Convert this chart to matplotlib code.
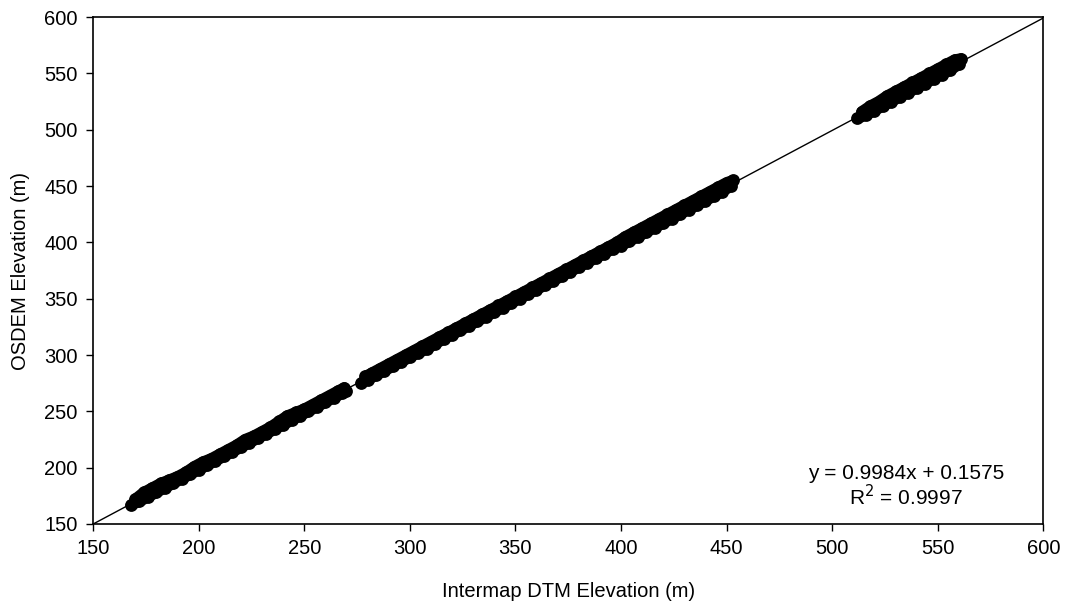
import matplotlib
matplotlib.use("Agg")
import matplotlib.pyplot as plt

plt.rcParams["font.family"] = ["Liberation Sans", "DejaVu Sans"]

# DATA (lower and upper edge of the point cloud)
# segment A (below the small break near 273 m)
xa_lo = [168, 172, 176, 180, 184, 188, 192, 196, 200, 204, 208, 212, 216, 220,
         224, 228, 232, 236, 240, 244, 248, 252, 256, 260, 264, 268, 270]
ya_lo = [167, 170, 174, 178, 182, 186, 190, 194, 198, 202, 206, 210, 214, 218,
         222, 226, 230, 234, 238, 242, 246, 250, 254, 258, 262, 266, 268]
xa_hi = [170, 174, 178, 182, 186, 190, 194, 198, 202, 206, 210, 214, 218, 222,
         226, 230, 234, 238, 242, 246, 250, 254, 258, 262, 266, 269]
ya_hi = [172, 178, 182, 186, 189, 192, 196, 201, 205, 208, 212, 216, 220, 225,
         228, 232, 236, 241, 246, 249, 252, 256, 260, 264, 268, 271]

# segment B (273 m up to 456 m)
xb_lo = [277, 280, 284, 288, 292, 296, 300, 304, 308, 312, 316, 320, 324, 328,
         332, 336, 340, 344, 348, 352, 356, 360, 364, 368, 372, 376, 380, 384,
         388, 392, 396, 400, 404, 408, 412, 416, 420, 424, 428, 432, 436, 440,
         444, 448, 452]
yb_lo = [275, 278, 282, 286, 290, 294, 298, 302, 305, 310, 314, 318, 322, 326,
         330, 334, 338, 342, 346, 350, 354, 358, 362, 366, 370, 374, 378, 382,
         386, 390, 394, 397, 401, 405, 409, 413, 417, 421, 425, 429, 433, 437,
         441, 445, 450]
xb_hi = [279, 282, 286, 290, 294, 298, 302, 306, 310, 314, 318, 322, 326, 330,
         334, 338, 342, 346, 350, 354, 358, 362, 366, 370, 374, 378, 382, 386,
         390, 394, 398, 402, 406, 410, 414, 418, 422, 426, 430, 434, 438, 442,
         446, 450, 453]
yb_hi = [281, 284, 288, 292, 296, 300, 304, 308, 312, 316, 320, 324, 328, 332,
         336, 340, 344, 348, 352, 356, 360, 364, 368, 372, 376, 380, 384, 388,
         392, 396, 400, 405, 409, 413, 417, 421, 425, 429, 433, 437, 441, 445,
         449, 453, 455]

# segment C (upper cluster, 510-564 m)
xc_lo = [512, 516, 520, 524, 528, 532, 536, 540, 544, 548, 552, 556, 560]
yc_lo = [510, 513, 517, 521, 525, 529, 533, 537, 541, 545, 549, 553, 558]
xc_hi = [514, 518, 522, 526, 530, 534, 538, 542, 546, 550, 554, 558, 561]
yc_hi = [516, 521, 525, 530, 534, 538, 542, 546, 550, 554, 558, 562, 563]

# trend line fit shown on the chart
SLOPE = 0.9984
INTERCEPT = 0.1575
R2 = 0.9997

AX_MIN, AX_MAX = 150, 600
TICKS = [150, 200, 250, 300, 350, 400, 450, 500, 550, 600]
FS = 14.5

fig = plt.figure(figsize=(10.69, 6.10), dpi=100)
ax = fig.add_axes([0.087, 0.141, 0.889, 0.831])

# the cloud is so dense that it reads as a solid band: join the points too
for xs, ys in [(xa_lo, ya_lo), (xa_hi, ya_hi), (xb_lo, yb_lo), (xb_hi, yb_hi),
               (xc_lo, yc_lo), (xc_hi, yc_hi)]:
    ax.plot(xs, ys, color="black", linewidth=8, solid_capstyle="round",
            solid_joinstyle="round", zorder=3)
    ax.scatter(xs, ys, marker="o", s=85, color="black", linewidths=0, zorder=3)

line_x = [AX_MIN, AX_MAX]
line_y = [SLOPE * v + INTERCEPT for v in line_x]
ax.plot(line_x, line_y, color="black", linewidth=1.0, zorder=2)

ax.set_xlim(AX_MIN, AX_MAX)
ax.set_ylim(AX_MIN, AX_MAX)
ax.set_xticks(TICKS)
ax.set_yticks(TICKS)
ax.tick_params(direction="out", length=5, width=1, labelsize=FS, pad=6,
               top=False, right=False)
for sp in ax.spines.values():
    sp.set_linewidth(1.2)

ax.set_xlabel("Intermap DTM Elevation (m)", fontsize=FS, va="center")
ax.xaxis.set_label_coords(0.5, -0.134)
ax.set_ylabel("OSDEM Elevation (m)", fontsize=FS, va="center")
ax.yaxis.set_label_coords(-0.076, 0.5)

ax.text(535, 195, f"y = {SLOPE}x + {INTERCEPT}", ha="center", va="center",
        fontsize=15)
ax.text(535, 174, f"R$^2$ = {R2}", ha="center", va="center", fontsize=15)

plt.savefig("out.png", dpi=100)
plt.close()
